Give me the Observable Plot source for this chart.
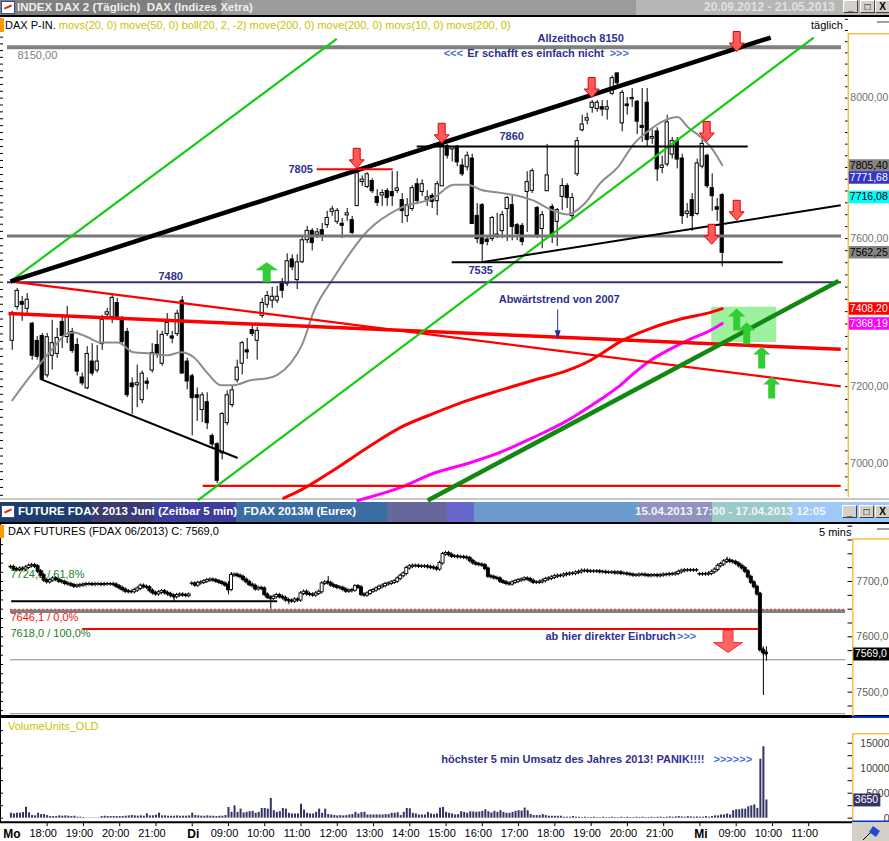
<!DOCTYPE html>
<html>
<head>
<meta charset="utf-8">
<script src="https://cdn.jsdelivr.net/npm/d3@7"></script>
<script src="https://cdn.jsdelivr.net/npm/@observablehq/plot@0.6"></script>
<style>
html,body{margin:0;padding:0;background:#fff;}
#page{position:relative;width:889px;height:841px;overflow:hidden;background:#fff;font-family:"Liberation Sans",Arial,sans-serif;}
.a{position:absolute;white-space:nowrap;}
.tb{font-weight:bold;font-size:11px;line-height:15px;}
.btn{position:absolute;width:13px;height:11px;background:#d4d0c8;border-top:1px solid #fff;border-left:1px solid #fff;border-right:1px solid #404040;border-bottom:1px solid #404040;font:bold 10px "Liberation Sans",Arial;text-align:center;line-height:11px;color:#000;}
</style>
</head>
<body>
<div id="page">
  <!-- top title bar -->
  <div class="a" style="left:0;top:0;width:889px;height:15px;background:linear-gradient(to right,#7f7f7f 0 222px,#9b9b9b 222px 636px,#b6b6b6 636px);"></div>
  <div class="a" style="left:1px;top:1px;width:12px;height:11px;background:#fff;border:1px solid #3a4a8a;"><div style="position:absolute;left:2px;top:4px;width:8px;height:2px;background:#d22;transform:rotate(-25deg)"></div></div>
  <div class="a tb" style="left:17px;top:0;color:#eeeeee;font-size:11.5px;">INDEX DAX 2 (Täglich)&nbsp;&nbsp;DAX (Indizes Xetra)</div>
  <div class="a tb" style="left:704px;top:0;color:#e0e0e0;font-size:12px;">20.09.2012 - 21.05.2013</div>
  <div class="btn" style="left:843px;top:0;">_</div>
  <div class="btn" style="left:860px;top:0;">□</div>
  <div class="btn" style="left:875px;top:0;">X</div>
  <div class="a" style="left:0;top:15px;width:889px;height:2px;background:#000;"></div>

  <!-- middle title bar -->
  <div class="a" style="left:0;top:498px;width:889px;height:2px;background:#c8c8c8;"></div>
  <div class="a" style="left:0;top:502px;width:889px;height:20px;background:linear-gradient(to right,#1e3d6c 0 91px,#3a3b6f 91px 153px,#3d3d9c 153px 236px,#3a6da1 236px 387px,#67679b 387px 447px,#6767cc 447px 474px,#6b9bcc 474px 640px,#9191c2 640px 712px,#9bcaca 712px 790px,#9dcaf8 790px);"></div>
  <div class="a" style="left:1px;top:505px;width:12px;height:11px;background:#fff;border:1px solid #3a4a8a;"><div style="position:absolute;left:2px;top:4px;width:8px;height:2px;background:#d22;transform:rotate(-25deg)"></div></div>
  <div class="a tb" style="left:18px;top:504px;color:#fff;font-size:11.5px;">FUTURE FDAX 2013 Juni (Zeitbar 5 min)&nbsp;&nbsp;FDAX 2013M (Eurex)</div>
  <div class="a tb" style="left:635px;top:504px;color:#f4f4f4;font-size:11.5px;">15.04.2013 17:00 - 17.04.2013 12:05</div>
  <div class="btn" style="left:842px;top:505px;">_</div>
  <div class="btn" style="left:859px;top:505px;">□</div>
  <div class="btn" style="left:875px;top:505px;">X</div>
  <div class="a" style="left:0;top:522px;width:889px;height:2px;background:#000;"></div>
  <div class="a" style="left:0;top:715px;width:889px;height:3px;background:#000;"></div>
  <div class="a" style="left:0;top:524px;width:1px;height:298px;background:#000;"></div>
</div>
<script>
// ================= DATA =================
// Daily DAX candles [open, high, low, close], one per trading day (bar index = position)
const daily = [
[7323,7401,7296,7390],[7414,7463,7404,7455],[7425,7441,7374,7420],[7409,7449,7387,7431],[7366,7371,7270,7283],
[7320,7333,7270,7280],[7333,7341,7218,7220],[7231,7341,7223,7330],[7283,7377,7244,7314],[7288,7355,7275,7328],
[7371,7387,7301,7336],[7333,7414,7314,7387],[7344,7355,7288,7296],[7309,7328,7228,7241],[7223,7236,7202,7210],
[7197,7306,7192,7285],[7265,7314,7228,7236],[7244,7309,7236,7265],[7314,7390,7296,7377],[7393,7409,7377,7397],
[7387,7447,7368,7436],[7422,7436,7377,7387],[7377,7387,7312,7320],[7344,7355,7171,7179],[7207,7223,7127,7200],
[7205,7257,7145,7208],[7166,7241,7155,7233],[7212,7223,7192,7209],[7244,7314,7236,7288],[7309,7349,7275,7285],
[7262,7347,7254,7336],[7341,7395,7333,7368],[7332,7347,7314,7329],[7341,7404,7333,7393],[7428,7441,7233,7236],
[7265,7275,7192,7215],[7226,7233,7072,7171],[7176,7197,7109,7172],[7140,7184,7106,7176],[7158,7184,7088,7106],
[7070,7077,7041,7051],[7049,7054,6950,6958],[7028,7132,7010,7127],[7106,7189,7098,7176],[7153,7202,7145,7189],
[7218,7270,7210,7249],[7262,7320,7231,7314],[7295,7328,7272,7292],[7349,7363,7333,7341],[7323,7358,7270,7347],
[7390,7436,7382,7422],[7420,7455,7409,7441],[7431,7466,7409,7439],[7431,7468,7422,7439],[7479,7490,7436,7458],
[7477,7558,7468,7536],[7541,7555,7512,7522],[7487,7555,7460,7533],[7536,7606,7531,7594],[7597,7634,7586,7620],
[7620,7628,7566,7589],[7612,7628,7600,7616],[7622,7642,7592,7606],[7639,7676,7628,7656],[7676,7690,7662,7680],
[7648,7684,7639,7676],[7640,7656,7600,7637],[7666,7684,7648,7669],[7650,7662,7611,7617],[7692,7790,7690,7782],
[7760,7776,7746,7764],[7746,7785,7740,7779],[7760,7768,7726,7734],[7715,7737,7690,7701],[7722,7737,7690,7726],
[7732,7740,7690,7715],[7729,7788,7690,7720],[7735,7788,7726,7739],[7706,7726,7642,7678],[7664,7712,7645,7692],
[7684,7748,7676,7740],[7751,7768,7695,7706],[7732,7765,7718,7751],[7710,7734,7690,7714],[7718,7726,7684,7704],
[7706,7760,7664,7751],[7748,7866,7746,7860],[7860,7866,7824,7835],[7853,7860,7816,7857],[7858,7863,7802,7816],
[7804,7824,7774,7782],[7802,7844,7790,7832],[7824,7838,7639,7642],[7662,7698,7586,7600],[7692,7698,7535,7586],
[7596,7608,7580,7592],[7600,7662,7592,7656],[7606,7670,7600,7610],[7622,7676,7600,7664],[7684,7718,7592,7712],
[7692,7720,7594,7634],[7636,7642,7594,7614],[7634,7642,7580,7592],[7732,7788,7617,7757],[7735,7796,7726,7788],
[7684,7690,7600,7608],[7628,7676,7572,7664],[7734,7866,7732,7776],[7687,7695,7586,7608],[7648,7684,7578,7678],
[7718,7768,7678,7746],[7746,7754,7684,7715],[7664,7726,7650,7712],[7782,7886,7774,7874],[7908,7950,7902,7922],
[7936,7956,7922,7940],[7973,7993,7956,7985],[7970,7993,7959,7985],[7972,7993,7947,7968],[7968,7993,7936,7972],
[8014,8065,8008,8057],[8071,8074,8028,8045],[7928,8022,7902,8014],[7980,8002,7950,7978],[7998,8028,7973,7999],
[7988,7993,7894,7933],[7918,8028,7872,7915],[7985,8028,7858,7880],[7884,7908,7866,7886],[7902,7914,7760,7796],
[7800,7832,7782,7804],[7810,7950,7802,7928],[7838,7886,7824,7874],[7874,7886,7796,7824],[7824,7838,7639,7664],
[7670,7698,7656,7674],[7706,7726,7620,7664],[7670,7824,7664,7810],[7804,7888,7796,7866],[7832,7838,7740,7748],
[7740,7782,7676,7720],[7686,7712,7648,7682],[7720,7726,7522,7562]
];
// indicator curves [barIndex, value]
const maGray = [[0,7164],[3,7217],[5.7,7262],[8.3,7304],[11.1,7342],[12.3,7344],[15.1,7331],[17.7,7317],[21.1,7317],
[24.3,7291],[27.7,7288],[31.1,7283],[33.7,7291],[36.3,7278],[39.1,7235],[41.7,7204],[44.3,7204],[47.7,7217],[51.1,7222],
[53.1,7232],[55.7,7262],[58,7312],[60.3,7400],[64.3,7492],[71.1,7622],[77.7,7686],[84.3,7714],[88.3,7751],[91.1,7751],
[93.7,7737],[97.7,7728],[101.1,7720],[104.3,7706],[107.7,7681],[111.1,7667],[114.3,7695],[117.7,7757],[121.1,7800],
[124.3,7867],[127.7,7910],[131.1,7939],[133.1,7945],[135.1,7916],[137.7,7887],[139.7,7859],[142,7807]];
const maRed = [[54.3,6913],[57.7,6933],[64.3,6984],[71.1,7042],[77.7,7094],[84.3,7130],[91.1,7164],[97.7,7191],
[104.3,7217],[111.1,7243],[115.7,7270],[117.7,7286],[121.7,7320],[127.7,7355],[134.3,7382],[139.7,7398],[142,7408]];
const maMagenta = [[69.1,6907],[77.7,6940],[84.3,6976],[91.1,7001],[97.7,7030],[104.3,7068],[111.1,7112],[117.7,7167],
[121.1,7198],[124.3,7235],[127.7,7270],[131.1,7296],[135.1,7323],[139.7,7350],[142,7368]];
// drawn levels and trend lines [bar1, price1, bar2, price2]
const gridLevelAllTime = [8150];
const gridLevel7600 = [7607];
const level7480 = [7480];
const lightGreenTrends = [[-0.34,7482,64.9,8175],[37.1,6907,160.3,8179]];
const blackThickTrends = [[-0.34,7482,151.7,8179]];
const blackThinTrends = [[5.7,7220,45.1,7015],[93.9,7535,165.7,7693]];
const blackLevels = [[80.9,7860,147.1,7860],[87.9,7535,154.1,7535]];
const redShortLevels = [[60.9,7795,76.1,7795]];
const redThickTrends = [[-0.74,7395,165.7,7299]];
const redThinTrends = [[-0.34,7482,165.7,7201],[38.1,6944,165.7,6944]];
const darkGreenTrends = [[83.1,6907,165.3,7483]];
const greenZone = [[139.9,7317,152.9,7412]];
const redArrowsDown = [[68.9,7826],[85.9,7898],[115.9,8031],[144.9,8167],[138.9,7903],[144.9,7679],[139.9,7612]];
const greenArrowBig = [[50.9,7507]];
const greenArrowsUp = [[144.9,7379],[146.9,7342],[149.9,7277],[151.9,7198]];
const topNotesMiddle = [[113.7,8176,"Allzeithoch 8150"],[104.7,8132,"Er schafft es einfach nicht"],[57.7,7795,"7805"],[99.9,7889,"7860"],[93.7,7512,"7535"],[31.7,7496,"7480"]];
const topNotesStart = [[97.3,7434,"Abwärtstrend von 2007"]];
const topChevrons = [[86.3,8132,"<<<"],[119.5,8132,">>>"]];
const pointer = [[109.1,7406,109.1,7346]];
const topAxisTicks = [8000,7600,7200,7000];
const topAxisLabels = ["8000,00","7600,00","7200,00","7000,00"];
const currentValues = [7805.40,7771.68,7716.08,7562.25,7408.20,7368.19];
const currentLabels = ["7805,40","7771,68","7716,08","7562,25","7408,20","7368,19"];

// 5-minute FDAX bars: closes (Mo 17:00 .. Mi 09:50)
const futClose = [
7726,7722,7721,7723,7722,7725,7728,7729,7727,7718,7711,7702,
7699,7702,7705,7703,7700,7699,7696,7695,7693,7691,7692,7693,
7694,7695,7695,7694,7695,7695,7694,7695,7695,7695,7694,7691,
7688,7685,7682,7681,7681,7684,7687,7692,7690,7689,7683,7679,
7677,7680,7682,7679,7677,7674,7672,7675,7676,7675,7674,7676,
7696,7693,7697,7698,7700,7702,7703,7702,7700,7698,7696,7693,
7685,7711,7712,7710,7708,7703,7699,7694,7692,7686,7688,7687,
7676,7671,7669,7672,7675,7672,7670,7666,7665,7664,7667,7666,
7678,7681,7677,7676,7675,7678,7681,7696,7698,7697,7693,7691,
7689,7688,7685,7682,7683,7684,7691,7689,7676,7675,7678,7682,
7684,7687,7690,7692,7695,7696,7698,7700,7705,7710,7714,7724,
7727,7728,7728,7727,7727,7727,7726,7725,7724,7722,7733,7749,
7751,7748,7745,7745,7744,7744,7743,7742,7737,7733,7731,7730,
7729,7723,7709,7708,7706,7705,7700,7698,7696,7695,7698,7700,
7702,7703,7705,7704,7701,7698,7698,7699,7701,7704,7705,7707,
7709,7710,7710,7712,7713,7714,7714,7716,7717,7719,7719,7718,
7718,7718,7718,7717,7717,7716,7716,7716,7715,7716,7714,7714,
7713,7712,7711,7711,7712,7712,7711,7710,7711,7711,7710,7711,
7712,7712,7713,7713,7714,7717,7719,7720,7720,7720,7720,7720,
7713,7713,7713,7714,7717,7721,7728,7731,7736,7738,7736,7735,
7732,7728,7724,7718,7708,7698,7690,7677,7576,7571,7569];
const futSessionStarts = [0,60,228];
const futWicks = [[54,7662,7676],[72,7676,7700],[73,7684,7716],[86,7650,7672],[92,7658,7667],[105,7697,7709],[237,7733,7744],[248,7576,7680],[249,7494,7582],[250,7556,7582]];
const fibValues = [7724.8,7646.1,7618.0];
const fibLabels = ["7724,8 / 61,8%","7646,1 / 0,0%","7618,0 / 100,0%"];
const futBlackLevel = [[0.1,7664.4,88.1,7664.4]];
const futRedLevel = [[23.6,7614,247.3,7614]];
const futGrayLevel = [7646.1];
const futThinGray = [7558.5,7461];
const futArrow = [[237.3,7591.6]];
const futAxisTicks = [7700,7600,7500];
const futAxisLabels = ["7700,0","7600,0","7500,0"];
const futLast = 7569.0;

// volume per 5-minute bar
const volume = [
1000,870,1000,1000,1130,2200,1070,530,470,1000,730,730,
530,330,330,330,470,400,470,400,330,400,200,200,
130,70,70,70,70,70,330,400,330,330,330,330,
330,330,400,470,530,470,400,470,400,870,470,470,
600,1000,470,470,400,400,400,470,400,400,400,470,
1000,530,470,400,400,470,400,400,330,400,400,530,
2150,1170,2470,1170,1820,1040,1170,1300,1370,980,1170,1950,
1950,1820,3970,1500,1170,1300,1950,1820,980,850,850,850,
2800,1630,980,850,850,1170,1820,980,1820,720,650,520,
460,520,460,520,650,720,1170,850,1100,1170,650,650,
650,650,650,650,720,720,980,980,1100,530,1170,1950,
1890,980,850,650,650,650,1170,850,720,850,2020,2150,
1170,980,850,650,720,1300,1170,980,1300,1240,1170,1240,
1370,1690,1300,1040,1370,1170,1500,1170,980,980,1170,1370,
1500,1430,2020,1500,720,520,520,520,720,520,390,390,
390,390,390,200,200,200,330,200,200,130,200,130,
130,200,130,130,200,130,130,200,130,130,200,130,
200,130,130,200,130,200,130,130,200,130,200,200,
130,200,260,200,260,330,260,200,330,260,200,260,
200,200,330,200,330,460,460,650,650,850,650,1500,
1690,1690,1820,1820,2280,2470,2670,1950,11800,14300,3650];
const volAxisTicks = [15000,10000,5000,0];
const volLast = 3650;
const hourTicks = [12,24,36,48,72,84,96,108,120,132,144,156,168,180,192,204,216,240,252,264];
const hourLabels = ["18:00","19:00","20:00","21:00","09:00","10:00","11:00","12:00","13:00","14:00","15:00","16:00","17:00","18:00","19:00","20:00","21:00","09:00","10:00","11:00"];
const dayTicks = [0,60,228];
const dayLabels = ["Mo","Di","Mi"];

// ================= DRAWING =================
const F = "'Liberation Sans', Arial, Helvetica, sans-serif";
const NAVY = "#2f2f8f", LBLUE = "#4d6fd8", ORANGE = "#f5c040";
const page = document.getElementById("page");

function arrowSymbol(w, sw, h, hh, up) {
  const s = up ? -1 : 1;
  return {draw(ctx) {
    const top = -h / 2 * s, tip = h / 2 * s, neck = (h / 2 - hh) * s;
    ctx.moveTo(-sw / 2, top); ctx.lineTo(sw / 2, top); ctx.lineTo(sw / 2, neck); ctx.lineTo(w / 2, neck);
    ctx.lineTo(0, tip); ctx.lineTo(-w / 2, neck); ctx.lineTo(-sw / 2, neck); ctx.closePath();
  }};
}
function boxSymbol(w, h) { return {draw(ctx) { ctx.rect(0, -h / 2, w, h); }}; }
function triSymbol(w, h) { return {draw(ctx) { ctx.moveTo(-w/2, -h/2); ctx.lineTo(w/2, -h/2); ctx.lineTo(0, h/2); ctx.closePath(); }}; }
function place(svg, top) {
  svg.style.position = "absolute"; svg.style.left = "0px"; svg.style.top = top + "px";
  svg.style.background = "transparent"; svg.style.overflow = "visible"; svg.style.maxWidth = "none";
  page.appendChild(svg);
}
const link = (data, stroke, w) => Plot.link(data, {x1: d => d[0], y1: d => d[1], x2: d => d[2], y2: d => d[3], stroke, strokeWidth: w});

// ---------- TOP PANEL (daily, log price scale) ----------
const tL = -2.34, tR = 175.46, gL = -0.94, gR = 165.86, tAx = 167.22;
const topBoxColors = ["#858585","#3434c8","#00ffff","#858585","#ff0000","#ff00ff"];
const topBoxText = ["#000","#fff","#000","#000","#fff","#fff"];
const topMarks = [
  Plot.ruleY(d3.range(6920, 8240, 20), {x1: () => tL, x2: () => tL + 0.6, stroke: "#000"}),
  Plot.rect(greenZone, {x1: d => d[0], y1: d => d[1], x2: d => d[2], y2: d => d[3], fill: "#9df09d"}),
  Plot.ruleX(daily, {x: (d, i) => i, y1: d => d[2], y2: d => d[1], stroke: "#000", strokeWidth: 1}),
  Plot.rect(daily, {filter: d => d[3] >= d[0], x1: (d, i) => i - 0.32, x2: (d, i) => i + 0.32, y1: d => d[0], y2: d => d[3], fill: "#fff", stroke: "#000", strokeWidth: 1, insetTop: -0.5, insetBottom: -0.5}),
  Plot.rect(daily, {filter: d => d[3] < d[0], x1: (d, i) => i - 0.32, x2: (d, i) => i + 0.32, y1: d => d[0], y2: d => d[3], fill: "#000", stroke: "#000", strokeWidth: 1, insetTop: -0.5, insetBottom: -0.5}),
  Plot.line(maGray, {x: d => d[0], y: d => d[1], stroke: "#8c8c8c", strokeWidth: 2, curve: "monotone-x"}),
  Plot.line(maRed, {x: d => d[0], y: d => d[1], stroke: "#ff0000", strokeWidth: 3, curve: "monotone-x"}),
  Plot.line(maMagenta, {x: d => d[0], y: d => d[1], stroke: "#ff00ff", strokeWidth: 3, curve: "monotone-x"}),
  Plot.ruleY(gridLevelAllTime, {x1: () => gL, x2: () => gR, stroke: "#808080", strokeWidth: 4}),
  Plot.ruleY(gridLevel7600, {x1: () => gL, x2: () => gR, stroke: "#767676", strokeWidth: 3}),
  Plot.ruleY(level7480, {x1: () => gL, x2: () => gR, stroke: "#33336b", strokeWidth: 2}),
  link(redThickTrends, "#ff0000", 3.5),
  link(redThinTrends, "#ff0000", 2.2),
  link(lightGreenTrends, "#11cc11", 2.2),
  link(darkGreenTrends, "#118811", 4.5),
  link(blackThickTrends, "#000", 4.5),
  link(blackThinTrends, "#000", 2),
  link(blackLevels, "#000", 2),
  link(redShortLevels, "#ff0000", 2),
  Plot.dot(redArrowsDown, {x: d => d[0], y: d => d[1], r: 8, symbol: arrowSymbol(15, 7, 20, 8.5, false), fill: "#ff5a5a", stroke: "#e00000", strokeWidth: 1}),
  Plot.dot(greenArrowBig, {x: d => d[0], y: d => d[1], r: 8, symbol: arrowSymbol(23, 8, 20, 8, true), fill: "#33cc33"}),
  Plot.dot(greenArrowsUp, {x: d => d[0], y: d => d[1], r: 8, symbol: arrowSymbol(17, 7, 22, 8, true), fill: "#33cc33"}),
  link(pointer, NAVY, 1),
  Plot.dot(pointer, {x: d => d[2], y: d => d[3], r: 4, symbol: triSymbol(6, 9), fill: NAVY, dy: 3}),
  Plot.text(topNotesMiddle, {x: d => d[0], y: d => d[1], text: d => d[2], fill: NAVY, fontWeight: "bold", fontSize: 11, fontFamily: F}),
  Plot.text(topNotesStart, {x: d => d[0], y: d => d[1], text: d => d[2], textAnchor: "start", fill: NAVY, fontWeight: "bold", fontSize: 11, fontFamily: F}),
  Plot.text(topChevrons, {x: d => d[0], y: d => d[1], text: d => d[2], textAnchor: "start", fill: LBLUE, fontWeight: "bold", fontSize: 11, fontFamily: F}),
  Plot.text(gridLevelAllTime, {x: () => 1.06, y: d => d, text: () => "8150,00", textAnchor: "start", dy: 8.5, fill: "#808080", fontSize: 11, fontFamily: F}),
  // right axis
  Plot.ruleY(d3.range(6933.33, 8240, 100 / 3), {x1: () => 166.66, x2: () => tAx, stroke: "#000"}),
  Plot.ruleX([tAx], {y1: () => 6914.5, y2: () => 8190, stroke: ORANGE, strokeWidth: 1.5}),
  Plot.ruleY([8190], {x1: () => tAx, x2: () => tR, stroke: ORANGE, strokeWidth: 1.5}),
  Plot.text(topAxisTicks, {x: () => tAx, y: d => d, text: (d, i) => topAxisLabels[i], dx: 2, textAnchor: "start", fill: "#707070", fontSize: 10.5, fontFamily: F})
];
currentValues.forEach((v, k) => {
  topMarks.push(Plot.dot([v], {x: () => tAx, y: d => d, r: 5, symbol: boxSymbol(42, 12.5), fill: topBoxColors[k], dx: 0.5}));
  topMarks.push(Plot.text([v], {x: () => tAx, y: d => d, text: () => currentLabels[k], dx: 1.5, textAnchor: "start", fill: topBoxText[k], fontSize: 10.5, fontFamily: F}));
});
place(Plot.plot({
  width: 889, height: 480, marginTop: 0, marginRight: 0, marginBottom: 0, marginLeft: 0,
  x: {domain: [tL, tR], range: [0, 889], axis: null},
  y: {type: "log", domain: [6914.5, 8239], range: [480, 0], axis: null},
  marks: topMarks
}), 17);

// ---------- MIDDLE PANEL (5-min futures) ----------
const mL = -3.441, mR = 290.73, mG0 = -0.13, mG1 = 276.2, mAx = 278.6;
const futOpen = futClose.map((c, i) => futSessionStarts.includes(i) ? c : futClose[i - 1]);
place(Plot.plot({
  width: 889, height: 192, marginTop: 0, marginRight: 0, marginBottom: 0, marginLeft: 0,
  x: {domain: [mL, mR], range: [0, 889], axis: null},
  y: {domain: [7456, 7803], range: [192, 0], axis: null},
  marks: [
    Plot.ruleY(d3.range(7466.67, 7803, 100 / 6), {x1: () => mL, x2: () => mL + 1, stroke: "#000"}),
    Plot.ruleY(futThinGray, {x1: () => mG0, x2: () => mG1, stroke: "#8a8a8a", strokeWidth: 1}),
    Plot.ruleY(futGrayLevel, {x1: () => mG0, x2: () => mG1, stroke: "#808080", strokeWidth: 3.5}),
    Plot.ruleY(futGrayLevel, {x1: () => mG0, x2: () => mG1, stroke: "#ff2020", strokeWidth: 1, strokeDasharray: "2,2", dy: -2}),
    link(futBlackLevel, "#000", 2),
    link(futRedLevel, "#ff0000", 2),
    Plot.text(fibValues, {x: () => mG0, y: d => d, text: (d, i) => fibLabels[i], dy: 6.5, textAnchor: "start", fill: (d, i) => i === 1 ? "#ee1111" : "#1a7f1a", fontSize: 11, fontFamily: F}),
    Plot.rect(futClose, {x1: (d, i) => i - 0.17, x2: (d, i) => i + 0.17, y1: (d, i) => futOpen[i], y2: d => d, fill: "#000", insetTop: -2, insetBottom: -2}),
    Plot.ruleX(futWicks, {x: d => d[0], y1: d => d[1], y2: d => d[2], stroke: "#000", strokeWidth: 1}),
    Plot.rect(futClose, {filter: (d, i) => d >= futOpen[i], x1: (d, i) => i - 0.5, x2: (d, i) => i + 0.5, y1: (d, i) => futOpen[i], y2: d => d, fill: "#fff", stroke: "#000", strokeWidth: 0.9, insetTop: -0.3, insetBottom: -0.3}),
    Plot.rect(futClose, {filter: (d, i) => d < futOpen[i], x1: (d, i) => i - 0.5, x2: (d, i) => i + 0.5, y1: (d, i) => futOpen[i], y2: d => d, fill: "#000", stroke: "#000", strokeWidth: 0.9, insetTop: -0.3, insetBottom: -0.3}),
    Plot.dot(futArrow, {x: d => d[0], y: d => d[1], r: 8, symbol: arrowSymbol(29, 10, 22, 10, false), fill: "#ff6464", stroke: "#ff3030", strokeWidth: 1}),
    Plot.text([[176.9, 7600.6]], {x: d => d[0], y: d => d[1], text: () => "ab hier direkter Einbruch", textAnchor: "start", fill: NAVY, fontWeight: "bold", fontSize: 11, fontFamily: F}),
    Plot.text([[220.4, 7600.6]], {x: d => d[0], y: d => d[1], text: () => ">>>", textAnchor: "start", fill: LBLUE, fontWeight: "bold", fontSize: 11, fontFamily: F}),
    Plot.ruleY(d3.range(7475, 7803, 25), {x1: () => mAx - 1.6, x2: () => mAx, stroke: "#000"}),
    Plot.ruleX([mAx], {y1: () => 7456, y2: () => 7777, stroke: ORANGE, strokeWidth: 1.5}),
    Plot.ruleY([7777], {x1: () => mAx, x2: () => mR, stroke: ORANGE, strokeWidth: 1.5}),
    Plot.text(futAxisTicks, {x: () => mAx, y: d => d, text: (d, i) => futAxisLabels[i], dx: 3.5, textAnchor: "start", fill: "#606060", fontSize: 10.5, fontFamily: F}),
    Plot.dot([futLast], {x: () => mAx, y: d => d, r: 5, symbol: boxSymbol(37, 13), fill: "#000", dx: 0.5}),
    Plot.text([futLast], {x: () => mAx, y: d => d, text: () => "7569,0", dx: 2, textAnchor: "start", fill: "#fff", fontSize: 10.5, fontFamily: F})
  ]
}), 524);

// ---------- VOLUME PANEL + time axis ----------
place(Plot.plot({
  width: 889, height: 123, marginTop: 0, marginRight: 0, marginBottom: 0, marginLeft: 0,
  x: {domain: [mL, mR], range: [0, 889], axis: null},
  y: {domain: [-800, 19940], range: [103.7, 0], axis: null},
  marks: [
    Plot.ruleY(d3.range(0, 19000, 2500), {x1: () => mL, x2: () => mL + 1, stroke: "#000"}),
    Plot.ruleX(volume, {x: (d, i) => i, y1: () => 0, y2: d => d, stroke: "#333366", strokeWidth: 2}),
    Plot.text([[142.4, 11740]], {x: d => d[0], y: d => d[1], text: () => "höchster 5 min Umsatz des Jahres 2013! PANIK!!!!", textAnchor: "start", fill: NAVY, fontWeight: "bold", fontSize: 11, fontFamily: F}),
    Plot.text([[232.5, 11740]], {x: d => d[0], y: d => d[1], text: () => ">>>>>>", textAnchor: "start", fill: LBLUE, fontWeight: "bold", fontSize: 11, fontFamily: F}),
    Plot.ruleY(d3.range(0, 17000, 2500), {x1: () => mAx - 1.6, x2: () => mAx, stroke: "#000"}),
    Plot.ruleX([mAx], {y1: () => -800, y2: () => 16880, stroke: ORANGE, strokeWidth: 1.5}),
    Plot.ruleY([16880], {x1: () => mAx, x2: () => mR, stroke: ORANGE, strokeWidth: 1.5}),
    Plot.ruleY([-660], {x1: () => mAx, x2: () => mR, stroke: "#0033cc", strokeWidth: 2}),
    Plot.text(volAxisTicks, {x: () => mR, y: d => d, text: d => String(d), textAnchor: "end", dx: 0, fill: "#404040", fontSize: 10.5, fontFamily: F}),
    Plot.dot([volLast], {x: () => mAx, y: d => d, r: 5, symbol: boxSymbol(27, 13), fill: "#333366", dx: 0.5}),
    Plot.text([volLast], {x: () => mAx, y: d => d, text: d => String(d), dx: 2, textAnchor: "start", fill: "#fff", fontSize: 10.5, fontFamily: F}),
    // time axis
    Plot.ruleY([-800], {x1: () => mL, x2: () => mAx, stroke: "#000", strokeWidth: 2}),
    Plot.ruleX(hourTicks.concat(dayTicks.slice(1)), {x: d => d, y1: () => -800, y2: () => -1700, stroke: "#000"}),
    Plot.text(hourTicks, {x: d => d, y: () => -800, text: (d, i) => hourLabels[i], dy: 11.5, dx: -4, fill: "#000", fontSize: 11, fontFamily: F}),
    Plot.text(dayTicks, {x: d => d, y: () => -800, text: (d, i) => dayLabels[i], dy: 11.5, dx: 1, fill: "#000", fontSize: 12, fontWeight: "bold", fontFamily: F})
  ]
}), 718);

// ---------- HTML overlays (headers) ----------
function addHTML(html) { const t = document.createElement("div"); t.innerHTML = html; while (t.firstChild) page.appendChild(t.firstChild); }
addHTML(`
<div class="a" style="left:0;top:18px;width:4px;height:14px;background:#ff9900;"></div>
<div class="a" style="left:5px;top:18px;font-size:11px;line-height:15px;"><span style="color:#000">DAX P-IN.</span> <span style="color:#c9c400">movs(20, 0) move(50, 0) boll(20, 2, -2) move(200, 0) move(200, 0) movs(10, 0) movs(200, 0)</span></div>
<div class="a" style="left:811px;top:18px;font-size:11px;line-height:15px;color:#000">täglich</div>
<div class="a" style="left:877px;top:21px;width:12px;height:2px;background:#a0a0a0;"></div>
<div class="a" style="left:0;top:525px;width:4px;height:13px;background:#ff9900;"></div>
<div class="a" style="left:8px;top:524px;font-size:11px;line-height:15px;color:#000">DAX FUTURES (FDAX 06/2013) C: 7569,0</div>
<div class="a" style="left:819px;top:525px;font-size:11px;line-height:15px;color:#000">5 mins</div>
<div class="a" style="left:877px;top:528px;width:12px;height:2px;background:#a0a0a0;"></div>
<div class="a" style="left:852px;top:716px;width:37px;height:2px;background:#0033cc;"></div>
<div class="a" style="left:8px;top:719px;font-size:11px;line-height:15px;color:#c9c400">VolumeUnits_OLD</div>
<div class="a" style="left:852px;top:822px;width:37px;height:19px;background:#d4d0c8;">
  <svg width="37" height="19" style="position:absolute;left:0;top:0"><line x1="11" y1="18" x2="21" y2="8" stroke="#000" stroke-width="1"/><path d="M21 4 L28 9 L24 15 L17 10 Z" fill="#1a4fd0"/></svg>
</div>
`);
</script>
</body>
</html>
